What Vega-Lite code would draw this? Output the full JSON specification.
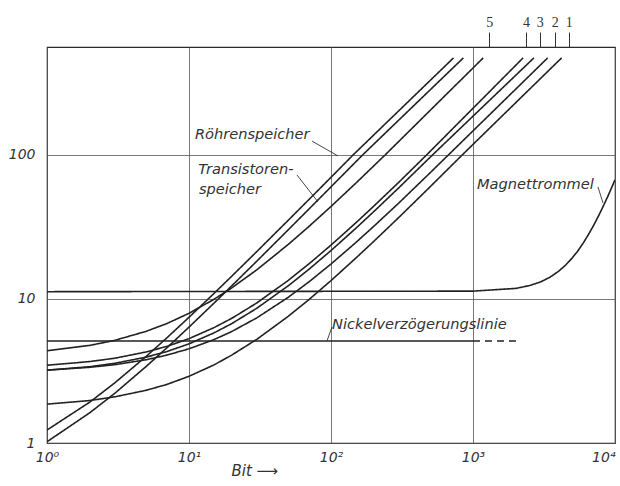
{
  "$schema": "https://vega.github.io/schema/vega-lite/v6.json",
  "width": 568,
  "height": 396,
  "autosize": "none",
  "padding": {"left": 47, "top": 47, "right": 5, "bottom": 43},
  "background": "white",
  "config": {
    "view": {"stroke": "#2a2a2a", "strokeWidth": 1.2},
    "axis": {"labelFont": "DejaVu Sans", "titleFont": "DejaVu Sans", "labelColor": "#333", "titleColor": "#333"}
  },
  "datasets": {
    "curves": [
      {"curve": "B", "part": "solid", "x": 1, "y": 1.23},
      {"curve": "B", "part": "solid", "x": 2, "y": 1.92},
      {"curve": "B", "part": "solid", "x": 3, "y": 2.61},
      {"curve": "B", "part": "solid", "x": 5, "y": 3.99},
      {"curve": "B", "part": "solid", "x": 7, "y": 5.37},
      {"curve": "B", "part": "solid", "x": 10, "y": 7.44},
      {"curve": "B", "part": "solid", "x": 15, "y": 10.89},
      {"curve": "B", "part": "solid", "x": 20, "y": 14.34},
      {"curve": "B", "part": "solid", "x": 30, "y": 21.24},
      {"curve": "B", "part": "solid", "x": 50, "y": 35.04},
      {"curve": "B", "part": "solid", "x": 70, "y": 48.84},
      {"curve": "B", "part": "solid", "x": 100, "y": 69.54},
      {"curve": "B", "part": "solid", "x": 144, "y": 100},
      {"curve": "B", "part": "solid", "x": 729, "y": 468},
      {"curve": "A", "part": "solid", "x": 1, "y": 1.02},
      {"curve": "A", "part": "solid", "x": 2, "y": 1.62},
      {"curve": "A", "part": "solid", "x": 3, "y": 2.21},
      {"curve": "A", "part": "solid", "x": 5, "y": 3.4},
      {"curve": "A", "part": "solid", "x": 7, "y": 4.58},
      {"curve": "A", "part": "solid", "x": 10, "y": 6.36},
      {"curve": "A", "part": "solid", "x": 15, "y": 9.33},
      {"curve": "A", "part": "solid", "x": 20, "y": 12.29},
      {"curve": "A", "part": "solid", "x": 30, "y": 18.22},
      {"curve": "A", "part": "solid", "x": 50, "y": 30.08},
      {"curve": "A", "part": "solid", "x": 70, "y": 41.94},
      {"curve": "A", "part": "solid", "x": 100, "y": 59.73},
      {"curve": "A", "part": "solid", "x": 168, "y": 100},
      {"curve": "A", "part": "solid", "x": 855, "y": 468},
      {"curve": "5", "part": "solid", "x": 1, "y": 4.36},
      {"curve": "5", "part": "solid", "x": 2, "y": 4.75},
      {"curve": "5", "part": "solid", "x": 3, "y": 5.15},
      {"curve": "5", "part": "solid", "x": 5, "y": 5.95},
      {"curve": "5", "part": "solid", "x": 7, "y": 6.74},
      {"curve": "5", "part": "solid", "x": 10, "y": 7.93},
      {"curve": "5", "part": "solid", "x": 15, "y": 9.92},
      {"curve": "5", "part": "solid", "x": 20, "y": 11.9},
      {"curve": "5", "part": "solid", "x": 30, "y": 15.87},
      {"curve": "5", "part": "solid", "x": 50, "y": 23.81},
      {"curve": "5", "part": "solid", "x": 70, "y": 31.75},
      {"curve": "5", "part": "solid", "x": 100, "y": 43.66},
      {"curve": "5", "part": "solid", "x": 150, "y": 63.5},
      {"curve": "5", "part": "solid", "x": 242, "y": 100},
      {"curve": "5", "part": "solid", "x": 1180, "y": 468},
      {"curve": "4", "part": "solid", "x": 1, "y": 3.46},
      {"curve": "4", "part": "solid", "x": 2, "y": 3.67},
      {"curve": "4", "part": "solid", "x": 3, "y": 3.87},
      {"curve": "4", "part": "solid", "x": 5, "y": 4.28},
      {"curve": "4", "part": "solid", "x": 7, "y": 4.68},
      {"curve": "4", "part": "solid", "x": 10, "y": 5.29},
      {"curve": "4", "part": "solid", "x": 15, "y": 6.31},
      {"curve": "4", "part": "solid", "x": 20, "y": 7.32},
      {"curve": "4", "part": "solid", "x": 30, "y": 9.35},
      {"curve": "4", "part": "solid", "x": 50, "y": 13.41},
      {"curve": "4", "part": "solid", "x": 70, "y": 17.47},
      {"curve": "4", "part": "solid", "x": 100, "y": 23.56},
      {"curve": "4", "part": "solid", "x": 150, "y": 33.7},
      {"curve": "4", "part": "solid", "x": 200, "y": 43.86},
      {"curve": "4", "part": "solid", "x": 300, "y": 64.2},
      {"curve": "4", "part": "solid", "x": 474, "y": 100},
      {"curve": "4", "part": "solid", "x": 2254, "y": 468},
      {"curve": "3", "part": "solid", "x": 1, "y": 3.2},
      {"curve": "3", "part": "solid", "x": 2, "y": 3.38},
      {"curve": "3", "part": "solid", "x": 3, "y": 3.57},
      {"curve": "3", "part": "solid", "x": 5, "y": 3.94},
      {"curve": "3", "part": "solid", "x": 7, "y": 4.31},
      {"curve": "3", "part": "solid", "x": 10, "y": 4.87},
      {"curve": "3", "part": "solid", "x": 15, "y": 5.8},
      {"curve": "3", "part": "solid", "x": 20, "y": 6.73},
      {"curve": "3", "part": "solid", "x": 30, "y": 8.59},
      {"curve": "3", "part": "solid", "x": 50, "y": 12.31},
      {"curve": "3", "part": "solid", "x": 70, "y": 16.03},
      {"curve": "3", "part": "solid", "x": 100, "y": 21.6},
      {"curve": "3", "part": "solid", "x": 150, "y": 30.9},
      {"curve": "3", "part": "solid", "x": 200, "y": 40.2},
      {"curve": "3", "part": "solid", "x": 300, "y": 58.8},
      {"curve": "3", "part": "solid", "x": 522, "y": 100},
      {"curve": "3", "part": "solid", "x": 2685, "y": 468},
      {"curve": "2", "part": "solid", "x": 1, "y": 3.2},
      {"curve": "2", "part": "solid", "x": 2, "y": 3.35},
      {"curve": "2", "part": "solid", "x": 3, "y": 3.49},
      {"curve": "2", "part": "solid", "x": 5, "y": 3.78},
      {"curve": "2", "part": "solid", "x": 7, "y": 4.07},
      {"curve": "2", "part": "solid", "x": 10, "y": 4.5},
      {"curve": "2", "part": "solid", "x": 15, "y": 5.21},
      {"curve": "2", "part": "solid", "x": 20, "y": 5.93},
      {"curve": "2", "part": "solid", "x": 30, "y": 7.37},
      {"curve": "2", "part": "solid", "x": 50, "y": 10.24},
      {"curve": "2", "part": "solid", "x": 70, "y": 13.11},
      {"curve": "2", "part": "solid", "x": 100, "y": 17.42},
      {"curve": "2", "part": "solid", "x": 150, "y": 24.6},
      {"curve": "2", "part": "solid", "x": 200, "y": 31.8},
      {"curve": "2", "part": "solid", "x": 300, "y": 46.1},
      {"curve": "2", "part": "solid", "x": 500, "y": 74.9},
      {"curve": "2", "part": "solid", "x": 675, "y": 100},
      {"curve": "2", "part": "solid", "x": 3357, "y": 468},
      {"curve": "1", "part": "solid", "x": 1, "y": 1.86},
      {"curve": "1", "part": "solid", "x": 2, "y": 1.97},
      {"curve": "1", "part": "solid", "x": 3, "y": 2.09},
      {"curve": "1", "part": "solid", "x": 5, "y": 2.32},
      {"curve": "1", "part": "solid", "x": 7, "y": 2.55},
      {"curve": "1", "part": "solid", "x": 10, "y": 2.9},
      {"curve": "1", "part": "solid", "x": 15, "y": 3.48},
      {"curve": "1", "part": "solid", "x": 20, "y": 4.07},
      {"curve": "1", "part": "solid", "x": 30, "y": 5.23},
      {"curve": "1", "part": "solid", "x": 50, "y": 7.56},
      {"curve": "1", "part": "solid", "x": 70, "y": 9.88},
      {"curve": "1", "part": "solid", "x": 100, "y": 13.37},
      {"curve": "1", "part": "solid", "x": 150, "y": 19.2},
      {"curve": "1", "part": "solid", "x": 200, "y": 25.0},
      {"curve": "1", "part": "solid", "x": 300, "y": 36.6},
      {"curve": "1", "part": "solid", "x": 500, "y": 59.9},
      {"curve": "1", "part": "solid", "x": 845, "y": 100},
      {"curve": "1", "part": "solid", "x": 4207, "y": 468},
      {"curve": "Nickel", "part": "solid", "x": 1, "y": 5.1},
      {"curve": "Nickel", "part": "solid", "x": 1000, "y": 5.1},
      {"curve": "NickelExt", "part": "dashed", "x": 1000, "y": 5.1},
      {"curve": "NickelExt", "part": "dashed", "x": 2040, "y": 5.1},
      {"curve": "Drum", "part": "solid", "x": 1, "y": 11.2},
      {"curve": "Drum", "part": "solid", "x": 1000, "y": 11.3},
      {"curve": "Drum", "part": "solid", "x": 2000, "y": 11.8},
      {"curve": "Drum", "part": "solid", "x": 2500, "y": 12.35},
      {"curve": "Drum", "part": "solid", "x": 3000, "y": 13.1},
      {"curve": "Drum", "part": "solid", "x": 3500, "y": 14.15},
      {"curve": "Drum", "part": "solid", "x": 4000, "y": 15.5},
      {"curve": "Drum", "part": "solid", "x": 4500, "y": 17.15},
      {"curve": "Drum", "part": "solid", "x": 5000, "y": 19.2},
      {"curve": "Drum", "part": "solid", "x": 5500, "y": 21.6},
      {"curve": "Drum", "part": "solid", "x": 6000, "y": 24.5},
      {"curve": "Drum", "part": "solid", "x": 6500, "y": 27.9},
      {"curve": "Drum", "part": "solid", "x": 7000, "y": 31.7},
      {"curve": "Drum", "part": "solid", "x": 7500, "y": 36.1},
      {"curve": "Drum", "part": "solid", "x": 8000, "y": 41.0},
      {"curve": "Drum", "part": "solid", "x": 8500, "y": 46.5},
      {"curve": "Drum", "part": "solid", "x": 9000, "y": 52.6},
      {"curve": "Drum", "part": "solid", "x": 9500, "y": 59.4},
      {"curve": "Drum", "part": "solid", "x": 10000, "y": 66.9}
    ],
    "labels": [
      {"label": "Röhrenspeicher", "x": 11.0, "y": 136.8},
      {"label": "Transistoren-", "x": 11.6, "y": 78.2},
      {"label": "speicher", "x": 11.75, "y": 56.8},
      {"label": "Magnettrommel", "x": 1067, "y": 61.5},
      {"label": "Nickelverzögerungslinie", "x": 101.6, "y": 6.58}
    ],
    "leaders": [
      {"x": 73.5, "y": 124, "x2": 112, "y2": 97.8},
      {"x": 57.6, "y": 72.2, "x2": 81, "y2": 46.9},
      {"x": 7586, "y": 59.6, "x2": 8230, "y2": 46.2},
      {"x": 101.6, "y": 6.37, "x2": 93.7, "y2": 5.1}
    ],
    "marks": [
      {"name": "5", "x": 1300},
      {"name": "4", "x": 2360},
      {"name": "3", "x": 2951},
      {"name": "2", "x": 3767},
      {"name": "1", "x": 4721}
    ]
  },
  "layer": [
    {
      "data": {"name": "curves"},
      "mark": {"type": "line", "color": "#222", "strokeWidth": 1.6, "clip": true},
      "encoding": {
        "x": {
          "field": "x", "type": "quantitative",
          "scale": {"type": "log", "domain": [1, 10000], "nice": false},
          "axis": {
            "orient": "bottom", "values": [1, 10, 100, 1000, 10000],
            "labelExpr": "'10' + ['⁰','¹','²','³','⁴'][round(log(datum.value)/LN10)]",
            "grid": true, "gridColor": "#555", "gridWidth": 0.8, "gridOpacity": 1,
            "domain": false, "ticks": false, "labelPadding": 7,
            "labelFontSize": 14, "labelFontStyle": "italic", "labelFontWeight": 300,
            "labelAlign": {"condition": {"test": "datum.value >= 10000", "value": "right"}, "value": "center"},
            "labelBound": false, "labelOverlap": false, "labelFlush": false,
            "title": "Bit  ⟶", "titleFontSize": 15, "titleFontStyle": "italic", "titleFontWeight": "normal",
            "titleAnchor": "start", "titleX": 184, "titleY": 20, "titleAlign": "left"
          }
        },
        "y": {
          "field": "y", "type": "quantitative",
          "scale": {"type": "log", "domain": [1, 557], "nice": false},
          "axis": {
            "values": [1, 10, 100],
            "grid": true, "gridColor": "#555", "gridWidth": 0.8, "gridOpacity": 1,
            "domain": false, "ticks": false, "labelPadding": 12,
            "labelFontSize": 14, "labelFontStyle": "italic",
            "labelBound": false, "labelOverlap": false, "labelFlush": false,
            "title": null
          }
        },
        "detail": {"field": "curve", "type": "nominal"},
        "strokeDash": {
          "field": "part", "type": "nominal",
          "scale": {"domain": ["solid", "dashed"], "range": [[1, 0], [7, 5]]},
          "legend": null
        }
      }
    },
    {
      "data": {"name": "leaders"},
      "mark": {"type": "rule", "color": "#333", "strokeWidth": 0.9},
      "encoding": {
        "x": {"field": "x", "type": "quantitative", "axis": null},
        "y": {"field": "y", "type": "quantitative"},
        "x2": {"field": "x2"},
        "y2": {"field": "y2"}
      }
    },
    {
      "data": {"name": "labels"},
      "mark": {"type": "text", "align": "left", "baseline": "middle", "font": "DejaVu Sans", "fontStyle": "italic", "fontSize": 14.6, "fontWeight": 300, "color": "#333"},
      "encoding": {
        "x": {"field": "x", "type": "quantitative", "axis": null},
        "y": {"field": "y", "type": "quantitative"},
        "text": {"field": "label", "type": "nominal"}
      }
    },
    {
      "data": {"name": "marks"},
      "mark": {"type": "point", "opacity": 0},
      "encoding": {
        "x": {
          "field": "x", "type": "quantitative",
          "axis": {
            "orient": "top", "values": [1300, 2360, 2951, 3767, 4721],
            "labelExpr": "{'1300':'5','2360':'4','2951':'3','3767':'2','4721':'1'}[datum.value+'']",
            "domain": false, "grid": false, "ticks": true, "tickSize": 15, "tickColor": "#333", "tickWidth": 1,
            "labelFont": "Liberation Serif", "labelFontSize": 14, "labelPadding": 3,
            "labelOverlap": false, "labelBound": false, "title": null
          }
        },
        "y": {"datum": 100, "type": "quantitative"}
      }
    }
  ],
  "resolve": {"axis": {"x": "independent"}}
}
